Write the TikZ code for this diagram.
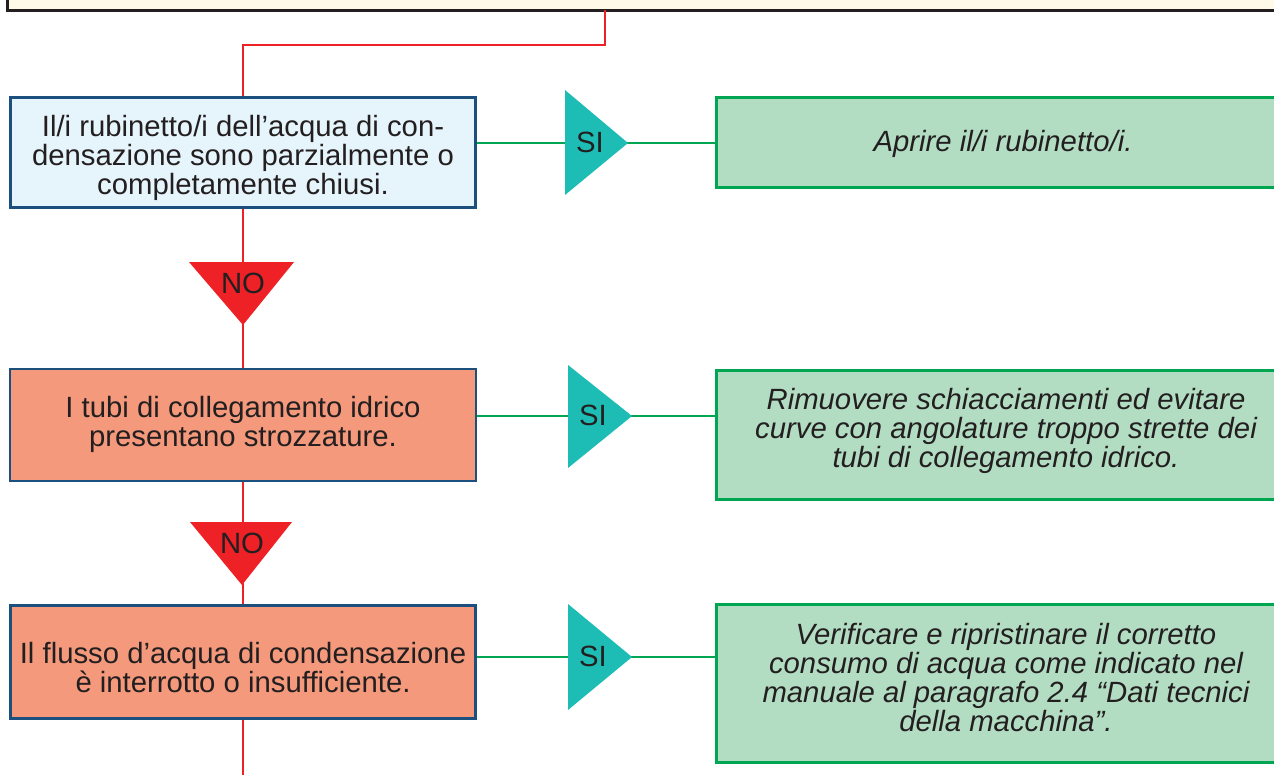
\documentclass[tikz,border=0pt]{standalone}
\usepackage{fontspec}
\setmainfont{Liberation Sans}
\definecolor{txt}{HTML}{231F20}
\definecolor{topfill}{HTML}{FFF9E7}
\definecolor{qblue}{HTML}{1B4F7D}
\definecolor{q1fill}{HTML}{E6F4FB}
\definecolor{qsalmon}{HTML}{F4997B}
\definecolor{agreen}{HTML}{00A651}
\definecolor{agfill}{HTML}{B3DDC3}
\definecolor{siteal}{HTML}{1DBDB5}
\definecolor{nored}{HTML}{EE2127}
\newcommand\diagfont{\fontsize{29.3}{28.7}\selectfont}
\begin{document}
\begin{tikzpicture}[x=1pt,y=-1pt,
  qbox/.style={draw=qblue, line width=2.6pt, inner sep=0pt},
  qtext/.style={inner sep=0pt, align=center, font=\diagfont, text=txt},
  abox/.style={draw=agreen, fill=agfill, line width=3pt, inner sep=0pt},
  atext/.style={inner sep=0pt, align=center, font=\diagfont\itshape, text=txt},
  redline/.style={draw=nored, line width=2.6pt},
  greenline/.style={draw=agreen, line width=2.7pt},
  trilabel/.style={inner sep=0pt, font=\diagfont, text=txt}]
\useasboundingbox (0,0) rectangle (1274,774);
\clip (0,0) rectangle (1274,774);

% top (cropped) box
\node[draw=txt, fill=topfill, line width=3pt, inner sep=0pt, minimum width=1300pt, minimum height=80pt] (top) at (657.5,-30) {};
\coordinate (t0) at (605,10);

% question boxes
\node[qbox, fill=q1fill, minimum width=465pt, minimum height=110pt] (q1) at (243,152.5) {};
\node[qtext] (q1t) at (243,158) {Il/i rubinetto/i dell’acqua di con-\\densazione sono parzialmente o\\completamente chiusi.};
\node[qbox, fill=qsalmon, minimum width=466pt, minimum height=112pt] (q2) at (243,425) {};
\node[qtext] (q2t) at (243,424.5) {I tubi di collegamento idrico\\presentano strozzature.};
\node[qbox, fill=qsalmon, minimum width=465pt, minimum height=113pt] (q3) at (243,662) {};
\node[qtext] (q3t) at (243,667.5) {Il flusso d’acqua di condensazione\\è interrotto o insufficiente.};
\coordinate (bot) at (243,780);

% answer boxes
\node[abox, minimum width=580pt, minimum height=90pt] (a1) at (1006,142.5) {};
\node[atext] (a1t) at (1003,144) {Aprire il/i rubinetto/i.};
\node[abox, minimum width=580pt, minimum height=129pt] (a2) at (1006,435) {};
\node[atext] (a2t) at (1006,431) {Rimuovere schiacciamenti ed evitare\\curve con angolature troppo strette dei\\tubi di collegamento idrico.};
\node[abox, minimum width=580pt, minimum height=158pt] (a3) at (1006,683.5) {};
\node[atext] (a3t) at (1006,677.5) {Verificare e ripristinare il corretto\\consumo di acqua come indicato nel\\manuale al paragrafo 2.4 “Dati tecnici\\della macchina”.};

% connectors
\draw[redline] (t0) -- ++(0,35) -| (q1.north);
\draw[redline] (q1.south) -- (q2.north);
\draw[redline] (q2.south) -- (q3.north);
\draw[redline] (q3.south) -- (bot);
\draw[greenline] (q1.east |- 0,143) -- (a1.west |- 0,143);
\draw[greenline] (q2.east |- 0,416) -- (a2.west |- 0,416);
\draw[greenline] (q3.east |- 0,657) -- (a3.west |- 0,657);

% SI triangles
\fill[siteal] (565,90) -- (628,143) -- (565,195) -- cycle;
\node[trilabel] (si1) at (590,142) {SI};
\fill[siteal] (568,365) -- (632,416) -- (568,468) -- cycle;
\node[trilabel] (si2) at (593,415) {SI};
\fill[siteal] (568,604) -- (632,657) -- (568,710) -- cycle;
\node[trilabel] (si3) at (593,656) {SI};

% NO triangles
\fill[nored] (189,262) -- (294,262) -- (243,325) -- cycle;
\node[trilabel] (no1) at (243,283) {NO};
\fill[nored] (190,522) -- (292,522) -- (242,585) -- cycle;
\node[trilabel] (no2) at (242,543) {NO};
\end{tikzpicture}
\end{document}
